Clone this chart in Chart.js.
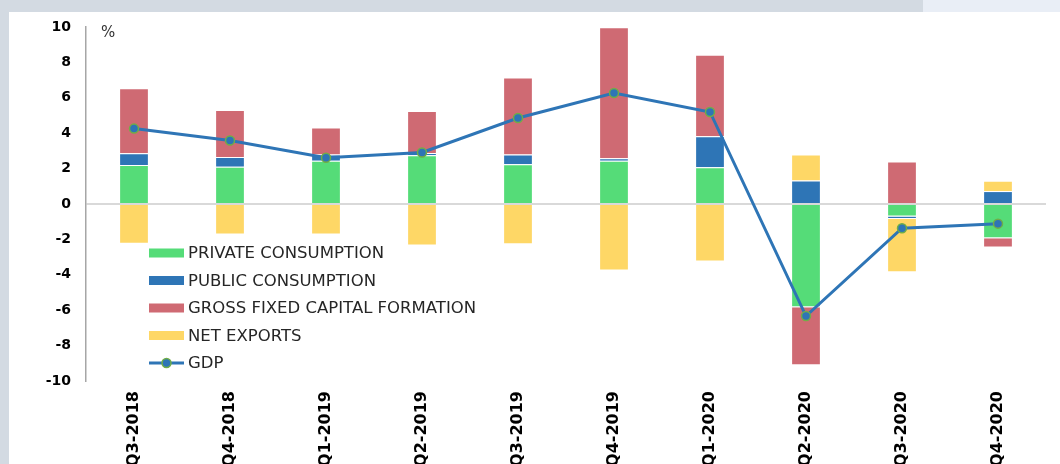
<!DOCTYPE html>
<html>
<head>
<meta charset="utf-8">
<title>GDP growth contributions</title>
<script src="https://cdn.jsdelivr.net/npm/chart.js@4/dist/chart.umd.min.js"></script>
<style>
  html, body { margin: 0; padding: 0; }
  body {
    width: 1060px;
    height: 464px;
    overflow: hidden;
    background: #d3dae2;
    position: relative;
  }
  /* lighter strip at the top right */
  #strip {
    position: absolute;
    left: 923px; top: 0;
    width: 137px; height: 12px;
    background: #e9eef6;
  }
  #panel {
    position: absolute;
    left: 9px; top: 12px;
    width: 1051px; height: 452px;
    background: #ffffff;
  }
</style>
</head>
<body>
<div id="strip"></div>
<div id="panel"><canvas id="gdpChart" width="1051" height="452"></canvas></div>
<script>
// quarters on the x axis
const quarters = ["Q3-2018", "Q4-2018", "Q1-2019", "Q2-2019", "Q3-2019",
                  "Q4-2019", "Q1-2020", "Q2-2020", "Q3-2020", "Q4-2020"];

// contributions to growth, percentage points
const privateConsumption = [2.21, 2.10, 2.44, 2.76, 2.25, 2.44, 2.07, -5.84, -0.71, -1.93];
const publicConsumption  = [0.66, 0.55, 0.36, 0.12, 0.55, 0.15, 1.76, 1.33, -0.14, 0.73];
const grossFixedCapital  = [3.67, 2.66, 1.52, 2.38, 4.34, 7.40, 4.60, -3.27, 2.40, -0.53];
const netExports         = [-2.25, -1.73, -1.73, -2.35, -2.27, -3.76, -3.25, 1.47, -3.00, 0.58];

// GDP growth, %
const gdp = [4.26, 3.59, 2.61, 2.91, 4.86, 6.27, 5.20, -6.33, -1.37, -1.11];

const yTicks = { min: -10, max: 10, step: 2 };

const FONT = "'DejaVu Sans', sans-serif";

// legend drawn inside the plot area, plus the "%" unit label
const insideLegend = {
  id: "insideLegend",
  afterDatasetsDraw(chart) {
    const ctx = chart.ctx;
    const area = chart.chartArea;
    ctx.save();

    ctx.fillStyle = "#333333";
    ctx.font = "15px " + FONT;
    ctx.textAlign = "left";
    ctx.textBaseline = "alphabetic";
    ctx.fillText("%", area.left + 15, area.top + 10);

    const x0 = area.left + 63;
    let y = area.top + 226;
    ctx.font = "16.5px " + FONT;
    ctx.textBaseline = "middle";
    chart.data.datasets.forEach(ds => {
      if (ds.type === "line") {
        ctx.strokeStyle = ds.borderColor;
        ctx.lineWidth = 3;
        ctx.beginPath();
        ctx.moveTo(x0, y);
        ctx.lineTo(x0 + 35, y);
        ctx.stroke();
        ctx.beginPath();
        ctx.arc(x0 + 17.5, y, 4.5, 0, Math.PI * 2);
        ctx.fillStyle = ds.pointBackgroundColor;
        ctx.fill();
        ctx.lineWidth = 1.5;
        ctx.strokeStyle = ds.pointBorderColor;
        ctx.stroke();
      } else {
        ctx.fillStyle = ds.backgroundColor;
        ctx.fillRect(x0, y - 4.5, 35, 9);
      }
      ctx.fillStyle = "#262626";
      ctx.fillText(ds.label, x0 + 39, y + 1);
      y += 27.5;
    });
    ctx.restore();
  }
};

function barSet(label, data, color) {
  return {
    type: "bar",
    label: label,
    data: data,
    backgroundColor: color,
    borderColor: "rgba(255,255,255,0.75)",
    borderWidth: 1,
    stack: "parts",
    order: 1,
    categoryPercentage: 1,
    barPercentage: 0.31
  };
}

new Chart(document.getElementById("gdpChart"), {
  data: {
    labels: quarters,
    datasets: [
      barSet("PRIVATE CONSUMPTION", privateConsumption, "#55dc78"),
      barSet("PUBLIC CONSUMPTION", publicConsumption, "#2e75b6"),
      barSet("GROSS FIXED CAPITAL FORMATION", grossFixedCapital, "#cf6a73"),
      barSet("NET EXPORTS", netExports, "#fed766"),
      {
        type: "line",
        label: "GDP",
        data: gdp,
        stack: "gdp",
        order: 0,
        borderColor: "#2e75b6",
        borderWidth: 3,
        tension: 0,
        pointRadius: 4.5,
        pointBackgroundColor: "#2e75b6",
        pointBorderColor: "#70ad47",
        pointBorderWidth: 1.5
      }
    ]
  },
  options: {
    responsive: false,
    maintainAspectRatio: false,
    animation: false,
    layout: { padding: { top: 15, right: 14, left: 0, bottom: 0 } },
    plugins: {
      legend: { display: false },
      tooltip: { enabled: false }
    },
    scales: {
      x: {
        stacked: true,
        grid: { display: false, drawTicks: false },
        border: { display: false },
        ticks: {
          autoSkip: false,
          minRotation: 90,
          maxRotation: 90,
          padding: 10,
          color: "#000000",
          font: { family: FONT, size: 16, weight: "bold" }
        },
        afterFit(scale) { scale.height = 83; }
      },
      y: {
        stacked: true,
        min: yTicks.min,
        max: yTicks.max,
        ticks: {
          stepSize: yTicks.step,
          padding: 15,
          color: "#000000",
          font: { family: FONT, size: 14, weight: "bold" }
        },
        grid: {
          drawTicks: false,
          color: c => (c.tick && c.tick.value === 0 ? "#d9d9d9" : "rgba(0,0,0,0)"),
          lineWidth: 2
        },
        border: { display: true, color: "#a6a6a6", width: 1.5 },
        afterFit(scale) {
          scale.width = 77;
          // the layout padding already leaves room for the end labels
          scale.paddingTop = 0;
          scale.paddingBottom = 0;
        }
      }
    }
  },
  plugins: [insideLegend]
});
</script>
</body>
</html>
